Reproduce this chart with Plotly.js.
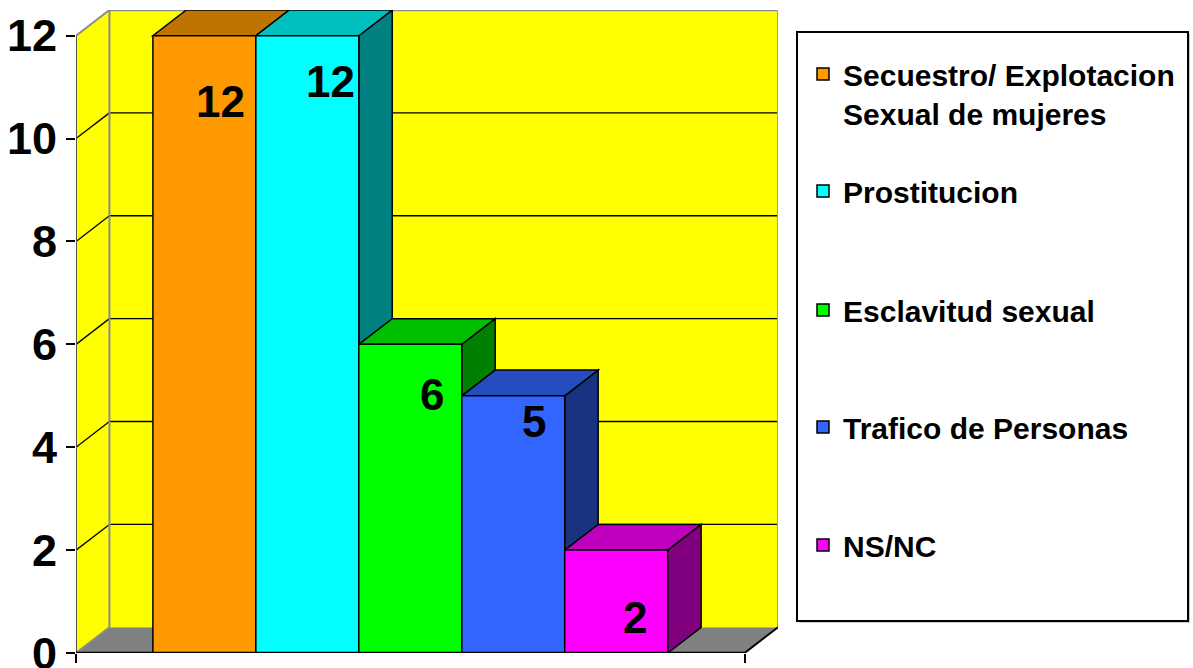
<!DOCTYPE html>
<html><head><meta charset="utf-8">
<script src="https://cdn.plot.ly/plotly-3.0.1.min.js"></script>
<style>html,body{margin:0;padding:0;background:#fff}#chart{width:1193px;height:668px}</style>
</head><body><div id="chart"></div>
<script>
// ---- data ----
const seriesNames = ['Secuestro/ Explotacion<br>Sexual de mujeres', 'Prostitucion', 'Esclavitud sexual', 'Trafico de Personas', 'NS/NC'];
const seriesValues = [12, 12, 6, 5, 2];
const seriesColors = ['#FF9900', '#00FFFF', '#00FF00', '#3366FF', '#FF00FF'];
const yTicks = [0, 2, 4, 6, 8, 10, 12];

// ---- layout constants ----
const FONT = 'Liberation Sans, Arial, sans-serif';
const DX = 0.05, DY = 0.5, BARGAP = 0.23, YMAX = 12;
const ML = 76, MR = 415, MT = 10, MB = 15, W = 1193, H = 668;
const PW = W - ML - MR, PH = H - MT - MB;
const labelDropPx = [66, 46, 50, 26, 67];
const labelShiftPx = [16, 23, 22, 21, 19];
const legendCenterPx = [93.5, 191, 310, 427, 545];

function shade(hex, f) {
  const n = parseInt(hex.slice(1), 16);
  const r = Math.round(((n >> 16) & 255) * f), g = Math.round(((n >> 8) & 255) * f), b = Math.round((n & 255) * f);
  return 'rgb(' + r + ',' + g + ',' + b + ')';
}
function path(pts) { return 'M' + pts.map(p => p[0] + ',' + p[1]).join('L') + 'Z'; }

const shapes = [];
const XL = -0.5, XR = 0.5;
// floor
shapes.push({type: 'path', xref: 'x', yref: 'y', layer: 'below', path: path([[XL, 0], [XR, 0], [XR + DX, DY], [XL + DX, DY]]), fillcolor: '#808080', line: {width: 0}});
// left wall
shapes.push({type: 'path', xref: 'x', yref: 'y', layer: 'below', path: path([[XL, 0], [XL + DX, DY], [XL + DX, YMAX + DY], [XL, YMAX]]), fillcolor: '#FFFF00', line: {width: 0}});
// back wall
shapes.push({type: 'rect', xref: 'x', yref: 'y', layer: 'below', x0: XL + DX, x1: XR + DX, y0: DY, y1: YMAX + DY, fillcolor: '#FFFF00', line: {width: 0}});
// gridlines
yTicks.forEach(k => {
  const edge = (k === 0 || k === YMAX);
  const col = edge ? '#8c8c8c' : '#000';
  shapes.push({type: 'line', xref: 'x', yref: 'y', layer: 'below', x0: XL, y0: k, x1: XL + DX, y1: k + DY, line: {color: col, width: edge ? 2 : 1.3}});
  if (k > 0) shapes.push({type: 'line', xref: 'x', yref: 'y', layer: 'below', x0: XL + DX, y0: k + DY, x1: XR + DX, y1: k + DY, line: {color: col, width: edge ? 2.5 : 1.3}});
});
// wall edges
shapes.push({type: 'line', xref: 'x', yref: 'y', layer: 'below', x0: XL + DX, y0: DY, x1: XL + DX, y1: YMAX + DY, line: {color: '#8c8c8c', width: 2}});
shapes.push({type: 'line', xref: 'x', yref: 'y', layer: 'below', x0: XR + DX, y0: DY, x1: XR + DX, y1: YMAX + DY, line: {color: '#a0a0a0', width: 2}});
shapes.push({type: 'line', xref: 'x', yref: 'y', layer: 'below', x0: XL, y0: 0, x1: XL, y1: YMAX, line: {color: '#555', width: 2}});
shapes.push({type: 'line', xref: 'x', yref: 'y', layer: 'below', x0: XR, y0: 0, x1: XR + DX, y1: DY, line: {color: '#000', width: 2}});

// bar 3D faces (top and side), computed from values
const n = seriesValues.length;
const bw = (1 - BARGAP) / n;
seriesValues.forEach((v, i) => {
  const x0 = -(1 - BARGAP) / 2 + i * bw, x1 = x0 + bw;
  shapes.push({type: 'path', xref: 'x', yref: 'y', layer: 'below', path: path([[x1, 0], [x1, v], [x1 + DX, v + DY], [x1 + DX, DY]]), fillcolor: shade(seriesColors[i], 0.5), line: {color: '#000', width: 1.5}});
  shapes.push({type: 'path', xref: 'x', yref: 'y', layer: 'below', path: path([[x0, v], [x1, v], [x1 + DX, v + DY], [x0 + DX, v + DY]]), fillcolor: shade(seriesColors[i], 0.75), line: {color: '#000', width: 1.5}});
});
// front x axis line
shapes.push({type: 'line', xref: 'x', yref: 'y', layer: 'above', x0: XL, y0: 0, x1: XR, y1: 0, line: {color: '#000', width: 2.5}});
// legend box (with faint shadow)
shapes.push({type: 'rect', xref: 'paper', yref: 'paper', layer: 'below',
  x0: (799 - ML) / PW, x1: (1190 - ML) / PW, y0: (H - MB - 623) / PH, y1: (H - MB - 34) / PH,
  fillcolor: '#c8c8c8', line: {width: 0}});
shapes.push({type: 'rect', xref: 'paper', yref: 'paper', layer: 'below',
  x0: (797 - ML) / PW, x1: (1188 - ML) / PW, y0: (H - MB - 621) / PH, y1: (H - MB - 32) / PH,
  fillcolor: '#fff', line: {color: '#000', width: 2}});

const traces = seriesValues.map((v, i) => ({
  type: 'bar', x: [0], y: [v], name: seriesNames[i],
  legend: i === 0 ? 'legend' : 'legend' + (i + 1),
  marker: {color: seriesColors[i], line: {color: '#000', width: 1.5}},
  hoverinfo: 'skip'
}));

const annotations = seriesValues.map((v, i) => ({
  xref: 'x', yref: 'y', x: -(1 - BARGAP) / 2 + (i + 0.5) * bw, y: v,
  xshift: labelShiftPx[i], yshift: -labelDropPx[i], text: String(v), showarrow: false,
  xanchor: 'center', yanchor: 'middle',
  font: {family: FONT, size: 44, color: '#000', weight: 'bold'}
}));

const layout = {
  width: W, height: H,
  margin: {l: ML, r: MR, t: MT, b: MB, pad: 0},
  paper_bgcolor: '#fff', plot_bgcolor: 'rgba(0,0,0,0)',
  barmode: 'group', bargap: BARGAP, bargroupgap: 0,
  showlegend: true,
  xaxis: {type: 'linear', range: [XL, XR + DX], tickvals: [XL, XR], ticks: 'outside', ticklen: 9, tickwidth: 2, tickcolor: '#000',
    showticklabels: false, showgrid: false, zeroline: false, showline: false, fixedrange: true},
  yaxis: {range: [0, YMAX + DY], tickvals: yTicks, ticktext: yTicks.map(String), ticks: 'outside', ticklen: 9, tickwidth: 2, tickcolor: '#000',
    ticklabelstandoff: 0, ticklabeloverflow: 'allow', tickfont: {family: FONT, size: 45, color: '#000', weight: 'bold'},
    showgrid: false, zeroline: false, showline: false, fixedrange: true},
  shapes: shapes,
  annotations: annotations
};
seriesNames.forEach((nm, i) => {
  const key = i === 0 ? 'legend' : 'legend' + (i + 1);
  layout[key] = {
    x: (803 - ML) / PW, xanchor: 'left',
    y: (H - MB - legendCenterPx[i]) / PH, yanchor: 'middle',
    bgcolor: 'rgba(0,0,0,0)', borderwidth: 0, valign: 'top',
    font: {family: FONT, size: 30, color: '#000', weight: 'bold'}
  };
});

Plotly.newPlot('chart', traces, layout, {displayModeBar: false, staticPlot: true});
</script>
</body></html>
